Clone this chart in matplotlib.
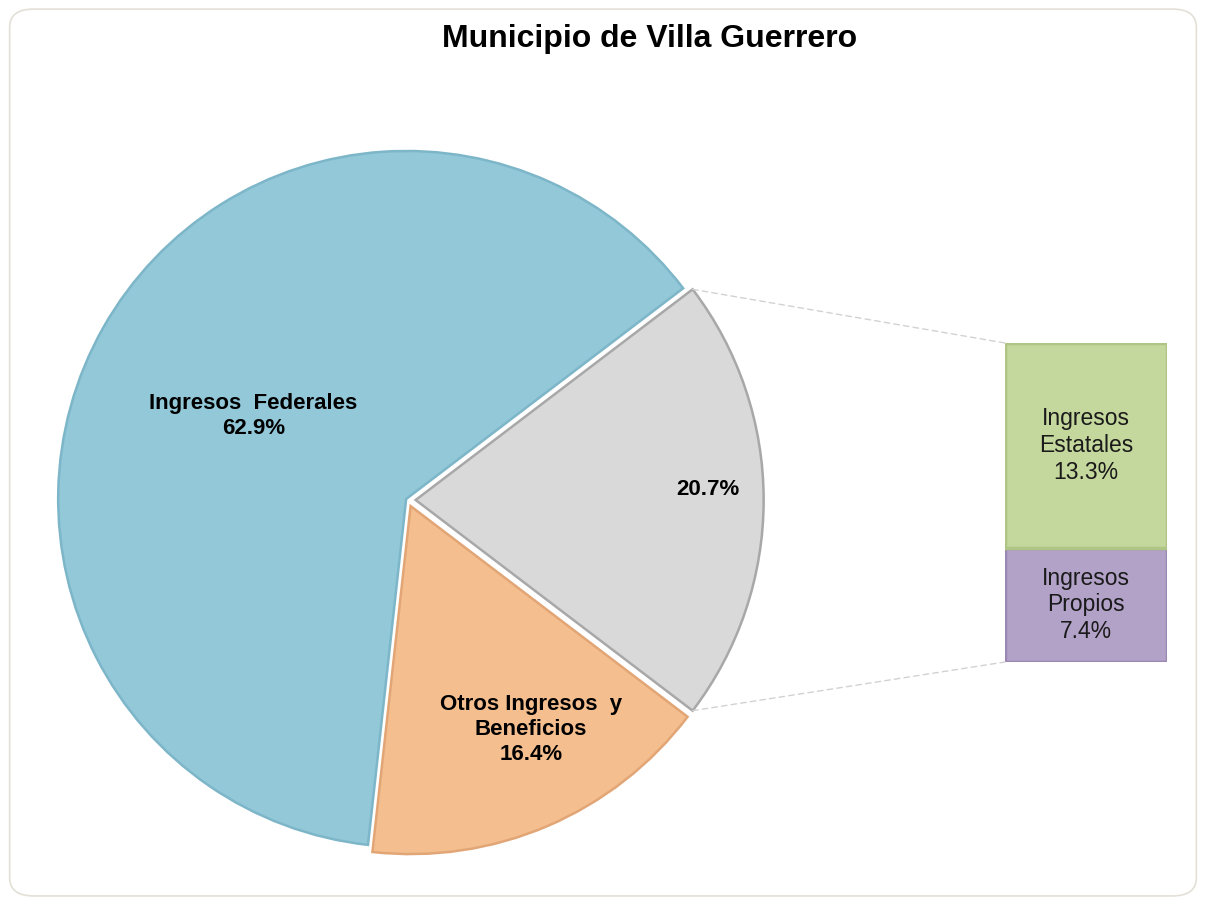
import numpy as np
import matplotlib
matplotlib.use("Agg")
import matplotlib.pyplot as plt
from matplotlib.patches import FancyBboxPatch, ConnectionPatch

plt.rcParams['font.family'] = ['Liberation Sans', 'DejaVu Sans']

# pie data (grey slice = the part that is broken out into the bar)
pie_labels = ['', 'Ingresos  Federales', 'Otros Ingresos  y\nBeneficios']
pie_values = [20.7, 62.9, 16.4]
pie_colors = ['#D9D9D9', '#92C8D8', '#F4BE8F']
pie_edges = ['#A8A8A8', '#7DB6C8', '#E2A676']

# breakdown bar
bar_labels = ['Ingresos\nPropios', 'Ingresos\nEstatales']
bar_values = [7.4, 13.3]
bar_colors = ['#B2A2C8', '#C4D79C']
bar_edges = ['#9A88B3', '#AFC585']

fig = plt.figure(figsize=(12.06, 9.05), dpi=100)
fig.patch.set_facecolor('white')
fig.patches.append(FancyBboxPatch((0.008, 0.01), 0.984, 0.98, boxstyle="round,pad=0,rounding_size=0.02",
                                  transform=fig.transFigure, facecolor='none',
                                  edgecolor='#E3E0D6', linewidth=1.2, zorder=-1))

fig.text(0.539, 0.957, 'Municipio de Villa Guerrero', ha='center', va='center',
         fontsize=23, fontweight='bold')

# pie axes in pixel units (explode is in data units here, so scale by r)
ax = fig.add_axes([0, 0, 1, 1])
ax.patch.set_alpha(0)
cx, cy, r = 408, 905 - 500, 348
start = -pie_values[0] / 100 * 360 / 2
explode = [0.022 * r, 0.006 * r, 0.019 * r]
wedges, _ = ax.pie(pie_values, colors=pie_colors, startangle=start, counterclock=True,
                   center=(cx, cy), radius=r, explode=explode,
                   wedgeprops=dict(linewidth=1.8))
for w, ec in zip(wedges, pie_edges):
    w.set_edgecolor(ec)
ax.set_xlim(0, 1206)
ax.set_ylim(0, 905)
ax.set_aspect('equal')
ax.axis('off')

label_dist = [0.84, 0.5, 0.73]
angle_shift = [2, 1, 5]
for w, lab, v, d, s in zip(wedges, pie_labels, pie_values, label_dist, angle_shift):
    mid = np.deg2rad((w.theta1 + w.theta2) / 2 + s)
    x = w.center[0] + d * r * np.cos(mid)
    y = w.center[1] + d * r * np.sin(mid)
    txt = (lab + '\n' if lab else '') + f'{v}%'
    ax.text(x, y, txt, ha='center', va='center', fontsize=16, fontweight='bold',
            linespacing=1.25)

# breakdown bar axes
bax = fig.add_axes([1005 / 1206, (905 - 662) / 905, 162 / 1206, 319 / 905])
bottom = 0
for lab, v, c, ec in zip(bar_labels, bar_values, bar_colors, bar_edges):
    bax.bar(0, v, width=1, bottom=bottom, color=c, edgecolor=ec, linewidth=2.5)
    bax.text(0, bottom + v / 2, f'{lab}\n{v}%', ha='center', va='center',
             fontsize=16.5, linespacing=1.2, color='#1a1a1a')
    bottom += v
bax.set_xlim(-0.5, 0.5)
bax.set_ylim(0, bottom)
bax.axis('off')

# connector lines from grey slice to bar
grey = wedges[0]
for ang, yb in [(grey.theta2, bottom), (grey.theta1, 0)]:
    a = np.deg2rad(ang)
    p = (grey.center[0] + r * np.cos(a), grey.center[1] + r * np.sin(a))
    con = ConnectionPatch(xyA=p, coordsA=ax.transData, xyB=(-0.5, yb), coordsB=bax.transData,
                          color='#D2D2D2', linestyle=(0, (4, 3)), linewidth=1)
    fig.add_artist(con)

fig.savefig('out.png', dpi=100)
